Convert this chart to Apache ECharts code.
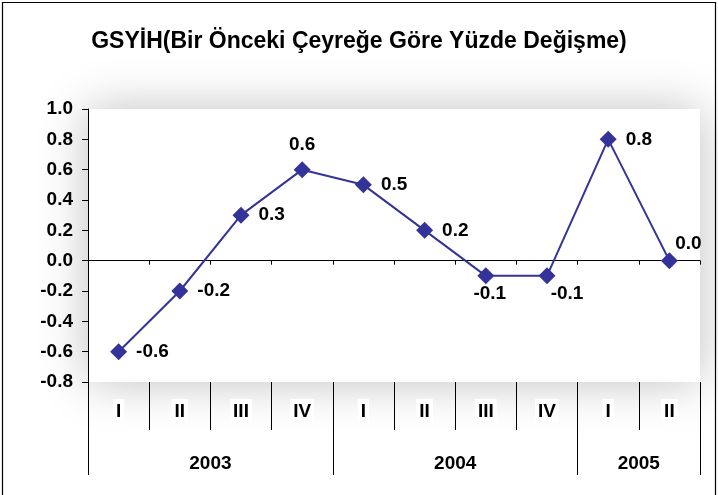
<!DOCTYPE html>
<html>
<head>
    <meta charset="UTF-8">
    <title>GSYİH</title>
    <script src="https://cdn.jsdelivr.net/npm/echarts/dist/echarts.min.js"></script>
</head>
<body style="margin:0;background:#fff;">
    <div id="chart" style="width:718px;height:495px;"></div>
    <script type="text/javascript">
        var myChart = echarts.init(document.getElementById('chart'));

        // data
        var quarters = ['I', 'II', 'III', 'IV', 'I', 'II', 'III', 'IV', 'I', 'II'];
        var growth = [-0.6, -0.2, 0.3, 0.6, 0.5, 0.2, -0.1, -0.1, 0.8, 0.0];
        var years = ['2003', '2004', '2005'];
        var yearSpans = [4, 4, 2];
        var yTicks = [-0.8, -0.6, -0.4, -0.2, 0.0, 0.2, 0.4, 0.6, 0.8, 1.0];

        // where each point label sits
        var labelPos = ['right', 'right', 'right', 'top', 'right', 'right', 'bottom', 'bottom', 'right', 'top'];
        var labelOff = [[0, 0], [0, 0], [0, 0], [0, 2], [0, 0], [0, 0], [4, -9], [20, -9], [0, 0], [19, 10]];

        // year boundaries and centres on a 0..10 value axis
        var yearEdges = [0];
        var yearMids = [];
        yearSpans.forEach(function (s, i) {
            yearMids.push(yearEdges[i] + s / 2);
            yearEdges.push(yearEdges[i] + s);
        });

        var boldFont = { fontFamily: 'Liberation Sans', fontWeight: 'bold', fontSize: 19, color: '#000' };

        var option = {
            backgroundColor: '#fff',
            animation: false,
            title: {
                text: 'GSYİH(Bir Önceki Çeyreğe Göre Yüzde Değişme)',
                left: 'center',
                top: 25,
                textStyle: { fontFamily: 'Liberation Sans', fontWeight: 'bold', fontSize: 23, color: '#000' }
            },
            graphic: [{
                type: 'rect',
                shape: { x: 2.5, y: 2.5, width: 713, height: 500 },
                style: { fill: 'none', stroke: '#000', lineWidth: 1.2 },
                silent: true
            }],
            grid: {
                left: 88, right: 18, top: 109, bottom: 113,
                show: true,
                borderWidth: 0,
                backgroundColor: '#fff',
                shadowBlur: 45,
                shadowColor: 'rgba(0,0,0,0.25)'
            },
            xAxis: [
                {
                    type: 'category',
                    data: quarters,
                    position: 'bottom',
                    axisLine: { onZero: true, lineStyle: { color: '#000', width: 1 } },
                    axisTick: { show: true, length: 4, lineStyle: { color: '#000' } },
                    axisLabel: { show: false },
                    splitLine: { show: false }
                },
                {
                    type: 'category',
                    data: quarters,
                    position: 'bottom',
                    axisLine: { show: false, onZero: false },
                    axisTick: { show: true, length: 48, lineStyle: { color: '#000', width: 1 } },
                    axisLabel: Object.assign({
                        margin: 17,
                        backgroundColor: '#fff',
                        padding: [3, 3, 1, 3]
                    }, boldFont),
                    splitLine: { show: false }
                },
                {
                    type: 'value',
                    min: 0,
                    max: 10,
                    position: 'bottom',
                    axisLine: { show: false, onZero: false },
                    axisTick: {
                        show: true, length: 93, customValues: yearEdges,
                        lineStyle: { color: '#000', width: 1 }
                    },
                    axisLabel: Object.assign({
                        margin: 69,
                        customValues: yearMids,
                        backgroundColor: '#fff',
                        padding: [3, 4, 1, 4],
                        formatter: function (v) {
                            return years[yearMids.indexOf(v)];
                        }
                    }, boldFont),
                    splitLine: { show: false }
                }
            ],
            yAxis: {
                type: 'value',
                min: yTicks[0],
                max: yTicks[yTicks.length - 1],
                interval: 0.2,
                axisLine: { show: true, lineStyle: { color: '#000', width: 1 } },
                axisTick: { show: true, length: 6, lineStyle: { color: '#000' } },
                axisLabel: Object.assign({
                    margin: 15,
                    formatter: function (v) { return v.toFixed(1); }
                }, boldFont),
                splitLine: { show: false }
            },
            series: [{
                type: 'line',
                xAxisIndex: 0,
                data: growth.map(function (v, i) {
                    return {
                        value: v,
                        label: { position: labelPos[i], offset: labelOff[i] }
                    };
                }),
                symbol: 'diamond',
                symbolSize: 17,
                itemStyle: { color: '#333399' },
                lineStyle: { color: '#333399', width: 2 },
                label: Object.assign({
                    show: true,
                    distance: 9,
                    formatter: function (p) { return p.value.toFixed(1); }
                }, boldFont)
            }]
        };

        myChart.setOption(option);
    </script>
</body>
</html>
